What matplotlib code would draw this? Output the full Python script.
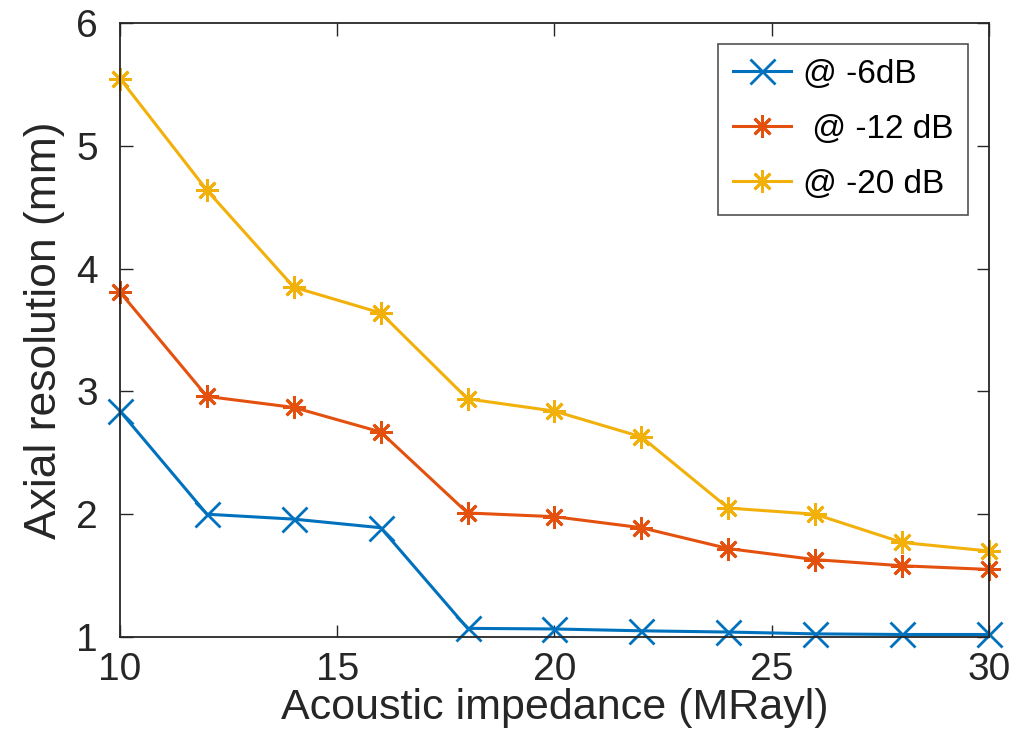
import matplotlib
matplotlib.use("Agg")
import matplotlib.pyplot as plt

plt.rcParams['font.family'] = ['Liberation Sans', 'DejaVu Sans']

impedance = [10, 12, 14, 16, 18, 20, 22, 24, 26, 28, 30]
res_6db = [2.84, 2.00, 1.96, 1.89, 1.07, 1.065, 1.05, 1.04, 1.025, 1.02, 1.02]
res_12db = [3.81, 2.96, 2.87, 2.67, 2.01, 1.98, 1.89, 1.72, 1.63, 1.58, 1.55]
res_20db = [5.55, 4.64, 3.85, 3.64, 2.94, 2.84, 2.63, 2.05, 2.00, 1.77, 1.70]
labels = ['@ -6dB', ' @ -12 dB', '@ -20 dB']
xticks = [10, 15, 20, 25, 30]
yticks = [1, 2, 3, 4, 5, 6]

fig = plt.figure(figsize=(10.32, 7.52), dpi=100)
ax = fig.add_axes([0.1163, 0.153, 0.842, 0.816])

ast = (8, 2, 0)
ax.plot(impedance, res_6db, color='#0072BD', lw=2.2, marker='x', ms=18, mew=2.0, label=labels[0])
ax.plot(impedance, res_12db, color='#E4510E', lw=2.2, marker=ast, ms=16, mew=2.0, label=labels[1])
ax.plot(impedance, res_20db, color='#F2B00A', lw=2.2, marker=ast, ms=16, mew=2.0, label=labels[2])

ax.set_xlim(10, 30)
ax.set_ylim(1, 6)
ax.set_xticks(xticks)
ax.set_yticks(yticks)
ax.tick_params(direction='in', length=9, width=1.0, color='#262626',
               labelsize=28, top=True, right=True, labelcolor='#262626')
ax.tick_params(axis='x', pad=11)
ax.tick_params(axis='y', pad=16)
for s in ax.spines.values():
    s.set_linewidth(1.3)
    s.set_color('#262626')
for ln in ax.lines:
    ln.set_clip_on(False)

ax.set_xlabel('Acoustic impedance (MRayl)', fontsize=31, color='#262626', labelpad=0)
ax.set_ylabel('Axial resolution (mm)', fontsize=32, color='#262626', labelpad=8)

leg = ax.legend(loc='upper right', bbox_to_anchor=(0.976, 0.967), fontsize=24,
                frameon=True, fancybox=False, edgecolor='#262626',
                handlelength=1.75, borderpad=0.45, labelspacing=0.72, handletextpad=0.35,
                borderaxespad=0)
leg.get_frame().set_linewidth(1.2)

fig.savefig('out.png', dpi=100)
